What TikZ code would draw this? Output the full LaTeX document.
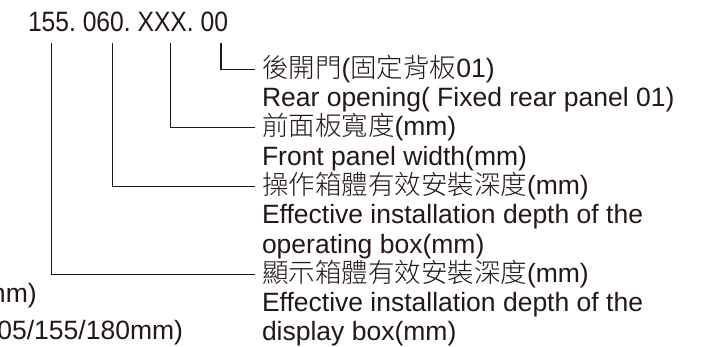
\documentclass[tikz,border=0pt]{standalone}
\usepackage{fontspec}
\setmainfont{Liberation Sans}
\IfFontExistsTF{Noto Sans CJK TC Light}
  {\newfontfamily\cjk{Noto Sans CJK TC Light}}
  {\IfFontExistsTF{Noto Sans CJK TC DemiLight}
    {\newfontfamily\cjk{Noto Sans CJK TC DemiLight}}
    {\newfontfamily\cjk{Noto Sans CJK TC}}}
\newfontfamily\numfont[FakeStretch=0.88]{Liberation Sans}
\definecolor{ink}{HTML}{231815}
\begin{document}
\begin{tikzpicture}[x=1pt,y=-1pt,
  every node/.style={inner sep=0pt,outer sep=0pt,text=ink},
  txt/.style={anchor=base west,font=\fontsize{26.5}{29.3}\selectfont},
  lefttxt/.style={anchor=base east,font=\fontsize{26.5}{29.3}\selectfont},
  code/.style={anchor=base west,font=\numfont\fontsize{28}{30}\selectfont},
  conn/.style={draw=ink,line width=1.2pt}]
\useasboundingbox (0,0) rectangle (713,347);
\clip (0,0) rectangle (713,347);
% code
\node[code] (code) at (28,32) {155.\ 060.\ XXX.\ 00};
\coordinate (t1) at (51.7,43);
\coordinate (t2) at (112.7,43);
\coordinate (t3) at (170.7,43);
\coordinate (t4) at (221,43);
% labels
\node[txt] (c1) at (262,77.8) {{\cjk 後開門}({\cjk 固定背板}01)};
\node[txt] (e1) at (262,106.6) {Rear opening( Fixed rear panel 01)};
\node[txt] (c2) at (262,135.9) {{\cjk 前面板寬度}(mm)};
\node[txt] (e2) at (262,165.2) {Front panel width(mm)};
\node[txt] (c3) at (262,194.5) {{\cjk 操作箱體有效安裝深度}(mm)};
\node[txt] (e3a) at (262,223.8) {Effective installation depth of the};
\node[txt] (e3b) at (262,253.1) {operating box(mm)};
\node[txt] (c4) at (262,282.8) {{\cjk 顯示箱體有效安裝深度}(mm)};
\node[txt] (e4a) at (262,311.7) {Effective installation depth of the};
\node[txt] (e4b) at (262,341) {display box(mm)};
% clipped left texts
\node[lefttxt] (l1) at (36.7,302.5) {mm)};
\node[lefttxt] (l2) at (183,339.5) {05/155/180mm)};
% connectors
\draw[conn] (t4) |- ([xshift=-7pt]c1.west);
\draw[conn] (t3) |- ([xshift=-7pt]c2.west);
\draw[conn] (t2) |- ([xshift=-7pt]c3.west);
\draw[conn] (t1) |- ([xshift=-7pt]c4.west);
\end{tikzpicture}
\end{document}
